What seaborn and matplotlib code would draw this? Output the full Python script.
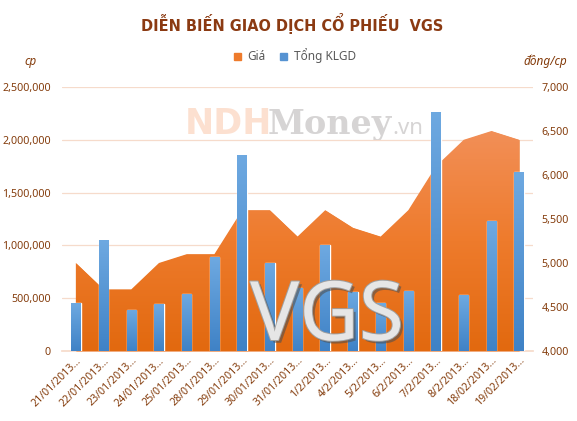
import numpy as np
import pandas as pd
import matplotlib
matplotlib.use("Agg")
import matplotlib.pyplot as plt
import matplotlib.patheffects as pe
from matplotlib.colors import LinearSegmentedColormap
from matplotlib.patches import Patch
import seaborn as sns

dates = ["21/01/2013...", "22/01/2013...", "23/01/2013...", "24/01/2013...",
         "25/01/2013...", "28/01/2013...", "29/01/2013...", "30/01/2013...",
         "31/01/2013...", "1/2/2013...", "4/2/2013...", "5/2/2013...",
         "6/2/2013...", "7/2/2013...", "8/2/2013...", "18/02/2013...",
         "19/02/2013..."]
volume = [450000, 1050000, 390000, 445000, 540000, 890000, 1855000, 835000,
          600000, 1000000, 560000, 450000, 570000, 2265000, 530000, 1230000,
          1695000]
price = [5000, 4700, 4700, 5000, 5100, 5100, 5600, 5600, 5300, 5600, 5400,
         5300, 5600, 6100, 6400, 6500, 6400]
left_ticks = [0, 500000, 1000000, 1500000, 2000000, 2500000]
right_ticks = [4000, 4500, 5000, 5500, 6000, 6500, 7000]

sns.set_theme(style="white")
plt.rcParams["font.family"] = ["Noto Sans", "DejaVu Sans"]

brown = "#843C0C"
grid_c = "#F6DBCB"
W, H = 577, 421

df = pd.DataFrame({"Ngay": dates, "KLGD": volume, "Gia": price})
x = np.arange(len(dates))

fig = plt.figure(figsize=(W / 100, H / 100), dpi=100)
ax1 = fig.add_axes([62 / W, 1 - 351 / H, 471 / W, 264 / H])
ax2 = ax1.twinx()
ax3 = ax1.twinx()

# watermark behind the data
ax1.text(185 / W, 1 - 134 / H, "NDH", transform=fig.transFigure, fontsize=25,
         fontweight="bold", family="DejaVu Sans", color="#FCE0D0",
         ha="left", va="baseline", zorder=0.5)
ax1.text(268 / W, 1 - 134 / H, "Money", transform=fig.transFigure, fontsize=24,
         fontweight="bold", family="DejaVu Serif", color="#D6D4D4",
         ha="left", va="baseline", zorder=0.5)
ax1.text(392 / W, 1 - 134 / H, ".vn", transform=fig.transFigure, fontsize=16,
         color="#D6D4D4", ha="left", va="baseline", zorder=0.5)

# price area with vertical gradient
grad = np.linspace(0, 1, 256).reshape(-1, 1)
poly = ax2.fill_between(x, df["Gia"], 4000, color="#EC7A2E", lw=0)
orange = LinearSegmentedColormap.from_list("orange", ["#E2690F", "#EE7B2C", "#F28F57"])
im = ax2.imshow(grad, extent=[-0.5, len(dates) - 0.5, 4000, max(price)],
                origin="lower", aspect="auto", cmap=orange, zorder=1.5)
im.set_clip_path(poly.get_paths()[0], poly.get_transform())
ax2.set_xlim(-0.5, len(dates) - 0.5)
ax2.set_ylim(4000, 7000)
ax2.set_yticks(right_ticks)
ax2.set_yticklabels([f"{v:,}" for v in right_ticks])
ax2.tick_params(axis="y", colors=brown, labelsize=7.7, length=0, pad=6)

# volume bars
sns.barplot(data=df, x="Ngay", y="KLGD", ax=ax3, color="#5693D2", width=0.34,
            saturation=1)
blue = LinearSegmentedColormap.from_list("blue", ["#3F82C6", "#6EA9E1"])
for bar in list(ax3.patches):
    x0, y0 = bar.get_x(), bar.get_y()
    g = ax3.imshow(grad, extent=[x0, x0 + bar.get_width(), y0, y0 + bar.get_height()],
                   origin="lower", aspect="auto", cmap=blue, zorder=bar.get_zorder() + 0.1)
    g.set_clip_path(bar)
ax3.set_xlim(-0.5, len(dates) - 0.5)
ax3.set_ylim(0, 2500000)
ax3.yaxis.set_visible(False)
ax3.set_xlabel("")

ax1.set_ylim(0, 2500000)
ax1.set_yticks(left_ticks)
ax1.set_yticklabels([f"{v:,}" for v in left_ticks])
ax1.set_xticks(x)
ax1.set_xticklabels(dates, rotation=45, ha="right", va="top", rotation_mode="anchor")
ax1.tick_params(axis="y", colors=brown, labelsize=7.7, length=0, pad=8)
ax1.tick_params(axis="x", colors=brown, labelsize=7.6, length=0, pad=3)
ax1.grid(axis="y", color=grid_c, lw=0.9)
ax1.grid(axis="x", visible=False)
ax1.set_xlabel("")
ax1.set_ylabel("")

for ax in (ax1, ax2, ax3):
    for s in ax.spines.values():
        s.set_visible(False)
ax1.spines["bottom"].set_visible(True)
ax1.spines["bottom"].set_color(grid_c)

# titles and labels
fig.text(292 / W, 1 - 23 / H, "DIỄN BIẾN GIAO DỊCH CỔ PHIẾU  VGS", fontsize=11.6,
         fontweight="bold", fontstretch="condensed", family="DejaVu Sans",
         color="#8B3A12", ha="center", va="center")
fig.text(31 / W, 1 - 61 / H, "cp", style="italic", color=brown, fontsize=8.5,
         ha="center", va="center")
fig.text(545 / W, 1 - 61 / H, "đồng/cp", style="italic", color=brown, fontsize=8.5,
         ha="center", va="center")

handles = [Patch(color="#EE7B2C"), Patch(color="#5693D2")]
leg = fig.legend(handles, ["Giá", "Tổng KLGD"], loc="center",
                 bbox_to_anchor=(295 / W, 1 - 56 / H), ncol=2, frameon=False,
                 fontsize=8.5, handlelength=0.6, handleheight=0.6,
                 handletextpad=0.6, columnspacing=1.2)
for t in leg.get_texts():
    t.set_color("#595959")

# big stock code watermark on top
fig.text(327 / W, 1 - 340 / H, "VGS", fontsize=59, color="#E6E6E6",
         ha="center", va="baseline", zorder=10,
         path_effects=[pe.withSimplePatchShadow(offset=(2, -2), shadow_rgbFace="#505050", alpha=0.6),
                       pe.Stroke(linewidth=1.4, foreground="#A0A0A0"), pe.Normal()])

fig.savefig("out.png", dpi=100)
